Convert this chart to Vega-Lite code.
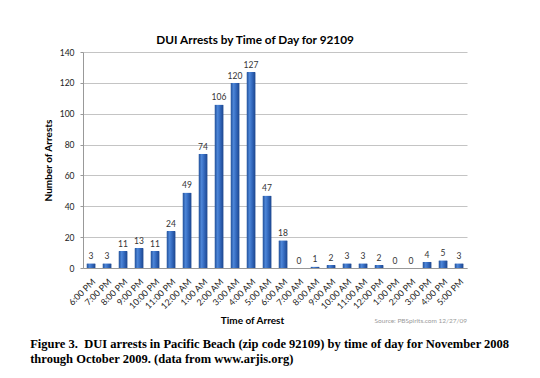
{
  "$schema": "https://vega.github.io/schema/vega-lite/v6.json",
  "padding": {"left": 30, "top": 35, "right": 5, "bottom": 5},
  "background": "white",
  "title": {
    "text": ["Figure 3.\u00a0 DUI arrests in Pacific Beach (zip code 92109) by time of day for November 2008", "through October 2009. (data from www.arjis.org)"],
    "orient": "bottom",
    "anchor": "start",
    "frame": "bounds",
    "dx": -13,
    "font": "Liberation Serif",
    "fontSize": 12.5,
    "fontWeight": "bold",
    "color": "black",
    "lineHeight": 15.5,
    "offset": 12
  },
  "data": {
    "values": [
      {"time": "6:00 PM", "arrests": 3},
      {"time": "7:00 PM", "arrests": 3},
      {"time": "8:00 PM", "arrests": 11},
      {"time": "9:00 PM", "arrests": 13},
      {"time": "10:00 PM", "arrests": 11},
      {"time": "11:00 PM", "arrests": 24},
      {"time": "12:00 AM", "arrests": 49},
      {"time": "1:00 AM", "arrests": 74},
      {"time": "2:00 AM", "arrests": 106},
      {"time": "3:00 AM", "arrests": 120},
      {"time": "4:00 AM", "arrests": 127},
      {"time": "5:00 AM", "arrests": 47},
      {"time": "6:00 AM", "arrests": 18},
      {"time": "7:00 AM", "arrests": 0},
      {"time": "8:00 AM", "arrests": 1},
      {"time": "9:00 AM", "arrests": 2},
      {"time": "10:00 AM", "arrests": 3},
      {"time": "11:00 AM", "arrests": 3},
      {"time": "12:00 PM", "arrests": 2},
      {"time": "1:00 PM", "arrests": 0},
      {"time": "2:00 PM", "arrests": 0},
      {"time": "3:00 PM", "arrests": 4},
      {"time": "4:00 PM", "arrests": 5},
      {"time": "5:00 PM", "arrests": 3}
    ]
  },
  "vconcat": [
    {
      "title": {
        "text": "Source: PBSpirits.com 12/27/09",
        "orient": "bottom",
        "anchor": "end",
        "frame": "bounds",
        "font": "Lato",
        "fontSize": 6.5,
        "fontWeight": "normal",
        "color": "#9a9a9a",
        "offset": -8
      },
      "vconcat": [
        {
          "width": 384,
          "height": 216,
          "title": {
            "text": "DUI Arrests by Time of Day for 92109",
            "anchor": "middle",
            "frame": "bounds",
            "font": "Lato",
            "fontSize": 11.8,
            "fontWeight": "bold",
            "color": "black",
            "offset": 1
          },
          "encoding": {
            "x": {
              "field": "time",
              "type": "nominal",
              "sort": null,
              "scale": {"paddingInner": 0.42, "paddingOuter": 0.21},
              "axis": {
                "title": "Time of Arrest",
                "titleFont": "Lato",
                "titleFontSize": 10,
                "titleFontWeight": "bold",
                "titleColor": "black",
                "titlePadding": 5,
                "titleX": 169,
                "labelAngle": -45,
                "labelFont": "Lato",
                "labelFontSize": 8.8,
                "labelColor": "#222",
                "labelPadding": 9,
                "domainColor": "#999",
                "ticks": false,
                "grid": false
              }
            },
            "y": {
              "field": "arrests",
              "type": "quantitative",
              "scale": {"domain": [0, 140], "nice": false},
              "axis": {
                "values": [0, 20, 40, 60, 80, 100, 120, 140],
                "title": "Number of Arrests",
                "titleFont": "Lato",
                "titleFontSize": 10,
                "titleFontWeight": "bold",
                "titleColor": "black",
                "titlePadding": 6,
                "labelFont": "Lato",
                "labelFontSize": 8.5,
                "labelColor": "#222",
                "labelPadding": 6,
                "ticks": true,
                "tickSize": 3,
                "tickColor": "#999",
                "domainColor": "#999",
                "gridColor": "#c4c4c4",
                "gridWidth": 1
              }
            }
          },
          "layer": [
            {
              "mark": {
                "type": "bar",
                "color": {
                  "gradient": "linear",
                  "x1": 0, "x2": 1, "y1": 0, "y2": 0,
                  "stops": [
                    {"offset": 0, "color": "#1d4a92"},
                    {"offset": 0.35, "color": "#4d86d8"},
                    {"offset": 0.6, "color": "#356bc0"},
                    {"offset": 1, "color": "#1a438a"}
                  ]
                },
                "cornerRadiusTopLeft": 1,
                "cornerRadiusTopRight": 1
              }
            },
            {
              "mark": {
                "type": "text",
                "dy": -7,
                "font": "Lato",
                "fontSize": 8.5,
                "color": "#333"
              },
              "encoding": {
                "text": {"field": "arrests", "type": "quantitative"}
              }
            }
          ]
        }
      ]
    }
  ],
  "config": {
    "view": {"stroke": null}
  }
}
